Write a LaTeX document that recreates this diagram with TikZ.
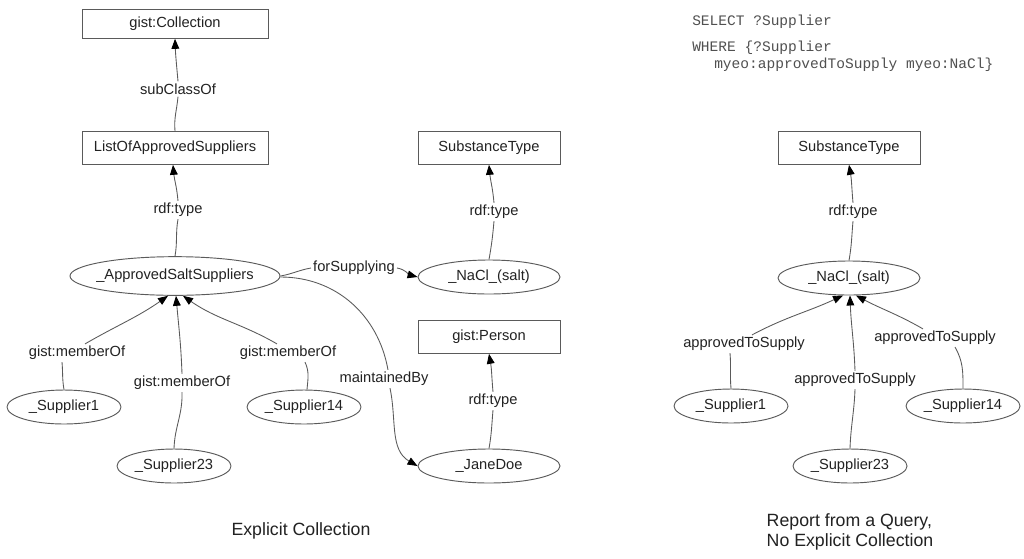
\documentclass[tikz,border=0pt]{standalone}
\usepackage{fontspec}
\setmainfont{Liberation Sans}
\setmonofont{Liberation Mono}
\usetikzlibrary{arrows.meta,calc,shapes.geometric}
\definecolor{linegray}{HTML}{5A5A5A}
\definecolor{txtgray}{HTML}{222222}
\definecolor{qgray}{HTML}{505050}
\newcommand\ctrtxt[1]{\makebox[0pt]{#1}}
\begin{document}
\begin{tikzpicture}[x=0.75pt,y=0.75pt,
  every node/.style={font=\fontsize{11}{13}\selectfont, text=txtgray},
  bigbox/.style={draw=linegray, line width=0.7pt, rectangle, minimum width=139.5pt, minimum height=24.5pt, inner sep=0pt},
  smallbox/.style={draw=linegray, line width=0.7pt, rectangle, minimum width=106.5pt, minimum height=24.5pt, inner sep=0pt},
  bigell/.style={draw=linegray, line width=0.7pt, ellipse, minimum width=157.5pt, minimum height=29pt, inner sep=0pt},
  midell/.style={draw=linegray, line width=0.7pt, ellipse, minimum width=106.5pt, minimum height=25.5pt, inner sep=0pt},
  supell/.style={draw=linegray, line width=0.7pt, ellipse, minimum width=85.5pt, minimum height=25.5pt, inner sep=0pt},
  lbl/.style={inner sep=1.5pt},
  edge/.style={draw=linegray, line width=0.65pt},
  arr/.style={edge, -{Triangle[length=7.5pt,width=5.8pt,color=black]}},
  qtxt/.style={font=\ttfamily\fontsize{10.9}{12}\selectfont, text=qgray, inner sep=0pt, anchor=west},
  captxt/.style={font=\fontsize{13.3}{15}\selectfont, text=txtgray, align=left}
]
\fill[white] (0,0) rectangle (1024,-558);
\useasboundingbox (0,0) rectangle (1024,-558);

% ---------- left diagram nodes ----------
\node[bigbox, minimum height=21.5pt] (coll) at (175,-24) {gist:Collection};
\node[bigbox] (lst) at (175,-148) {ListOfApprovedSuppliers};
\node[bigell] (ass) at (175,-276) {\ctrtxt{\_ApprovedSaltSuppliers}};
\node[supell] (s1) at (64,-407) {\ctrtxt{\_Supplier1}};
\node[supell] (s14) at (304,-407) {\ctrtxt{\_Supplier14}};
\node[supell] (s23) at (174,-466) {\ctrtxt{\_Supplier23}};
\node[smallbox] (subst1) at (489,-148) {SubstanceType};
\node[midell] (nacl1) at (489,-277) {\ctrtxt{\_NaCl\_(salt)}};
\node[smallbox] (person) at (489,-337) {gist:Person};
\node[midell] (jane) at (489,-466) {\ctrtxt{\_JaneDoe}};

% ---------- left diagram labels ----------
\node[lbl] (lsub) at (178,-89) {subClassOf};
\node[lbl] (lt1) at (178,-210) {rdf:type};
\node[lbl] (lfs) at (354,-268) {forSupplying};
\node[lbl] (lmb) at (384,-379) {maintainedBy};
\node[lbl] (lt2) at (494,-212) {rdf:type};
\node[lbl] (lt3) at (493,-401) {rdf:type};
\node[lbl] (m1) at (77,-353) {gist:memberOf};
\node[lbl] (m2) at (182,-383) {gist:memberOf};
\node[lbl] (m3) at (288,-353) {gist:memberOf};

% ---------- left diagram edges ----------
\draw[edge] (lst.north) to[out=95,in=-95] (lsub.south);
\draw[arr] (lsub.north) to[out=95,in=-88] (coll.south);
\draw[edge] (ass.north) to[out=80,in=-100] (lt1.south);
\draw[arr] (lt1.north) to[out=95,in=-85] ($(lst.south)+(-2,0)$);
\draw[edge] (ass.east) to[out=10,in=190] (lfs.west);
\draw[arr] (lfs.east) to[out=-10,in=165] (nacl1.west);
\draw[edge] ($(ass.east)+(0,-1)$) to[out=0,in=100] ($(lmb.north)+(4,0)$);
\draw[arr] ($(lmb.south)+(6,0)$) to[out=-78,in=150] (jane.west);
\draw[edge] (nacl1.north) to[out=80,in=-95] (lt2.south);
\draw[arr] (lt2.north) to[out=95,in=-85] (subst1.south);
\draw[edge] (jane.north) to[out=80,in=-95] (lt3.south);
\draw[arr] (lt3.north) to[out=95,in=-80] (person.south);
\draw[edge] (s1.north) to[out=100,in=-85] ($(m1.south)+(-15,0)$);
\draw[arr] ($(m1.north)+(8,0)$) to[out=30,in=-145] ($(ass.south)+(-7,0)$);
\draw[edge] (s23.north) to[out=88,in=-88] (m2.south);
\draw[arr] (m2.north) to[out=92,in=-85] ($(ass.south)+(1,0)$);
\draw[edge] ($(s14.north)+(3,0)$) to[out=85,in=-65] ($(m3.south)+(17,0)$);
\draw[arr] ($(m3.north)+(-11,0)$) to[out=150,in=-35] ($(ass.south)+(8,0)$);

% ---------- right diagram ----------
\node[qtxt] (q1) at (692,-22) {SELECT ?Supplier};
\node[qtxt] (q2) at (692,-48) {WHERE \{?Supplier};
\node[qtxt] (q3) at (714,-65) {myeo:approvedToSupply myeo:NaCl\}};

\node[smallbox] (subst2) at (849,-148) {SubstanceType};
\node[midell] (nacl2) at (849,-278) {\ctrtxt{\_NaCl\_(salt)}};
\node[supell] (r1) at (731,-406) {\ctrtxt{\_Supplier1}};
\node[supell] (r14) at (963,-406) {\ctrtxt{\_Supplier14}};
\node[supell] (r23) at (850,-466) {\ctrtxt{\_Supplier23}};

\node[lbl] (lt4) at (853,-212) {rdf:type};
\node[lbl] (a1) at (744,-344) {approvedToSupply};
\node[lbl] (a2) at (855,-380) {approvedToSupply};
\node[lbl] (a3) at (935,-338) {approvedToSupply};

\draw[edge] (nacl2.north) to[out=80,in=-95] (lt4.south);
\draw[arr] (lt4.north) to[out=95,in=-80] (subst2.south);
\draw[edge] (r1.north) to[out=95,in=-85] ($(a1.south)+(-14,0)$);
\draw[arr] ($(a1.north)+(8,0)$) to[out=28,in=-155] ($(nacl2.south)+(-6,0)$);
\draw[edge] (r23.north) to[out=88,in=-92] (a2.south);
\draw[arr] (a2.north) to[out=92,in=-88] ($(nacl2.south)+(1,0)$);
\draw[edge] (r14.north) to[out=90,in=-60] ($(a3.south)+(20,0)$);
\draw[arr] ($(a3.north)+(-12,0)$) to[out=150,in=-28] ($(nacl2.south)+(7,0)$);

% ---------- captions ----------
\node[captxt] (c1) at (301,-531) {Explicit Collection};
\node[captxt] (c2) at (850,-532) {Report from a Query,\\No Explicit Collection};
\end{tikzpicture}
\end{document}
